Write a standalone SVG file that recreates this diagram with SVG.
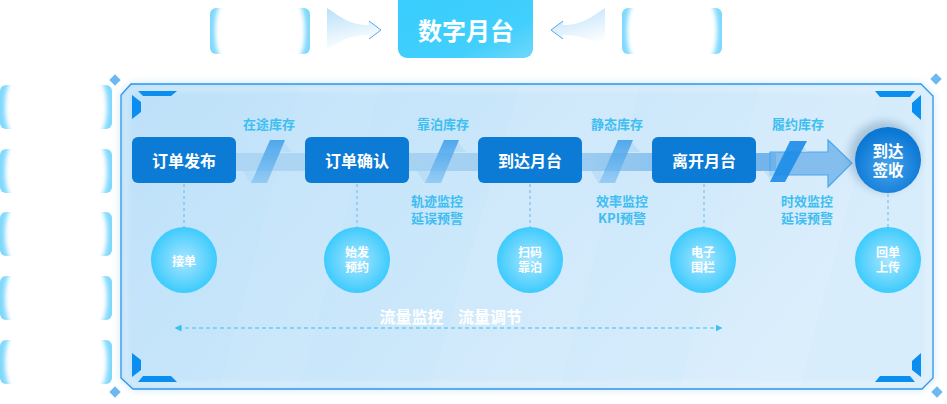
<svg xmlns="http://www.w3.org/2000/svg" width="947" height="404" viewBox="0 0 947 404">
<defs>
<style>
text{font-family:'Noto Sans CJK SC','Noto Sans',sans-serif;font-weight:700;text-anchor:middle}
.lbl{fill:#3fbef2;font-size:13px}
.box{fill:#0b7bd5}
.boxt{fill:#fff;font-size:16px}
.ct{fill:#fff;font-size:12px}
.vd{stroke:#6db6ea;stroke-width:1;stroke-dasharray:3 3;fill:none}
.dia{fill:#6db8f0}
.corner{fill:#0a8ff0}
</style>
<linearGradient id="panelG" x1="0" y1="0" x2="1" y2="0.3">
<stop offset="0" stop-color="#bde1f9"/><stop offset="1" stop-color="#d8edfc"/>
</linearGradient>
<linearGradient id="topBoxG" x1="0" y1="0" x2="1" y2="1">
<stop offset="0" stop-color="#36cdfd"/><stop offset="0.7" stop-color="#42cffd"/><stop offset="1" stop-color="#6fd8fb"/>
</linearGradient>
<linearGradient id="arrG" x1="0" y1="0" x2="0.3" y2="1">
<stop offset="0" stop-color="#b8e0fa"/><stop offset="1" stop-color="#ffffff"/>
</linearGradient>
<linearGradient id="bandG" x1="0" y1="0" x2="1" y2="0">
<stop offset="0" stop-color="#9fcdef" stop-opacity="0.6"/><stop offset="0.6" stop-color="#8cc3ed" stop-opacity="0.7"/><stop offset="1" stop-color="#5ea9e8" stop-opacity="0.85"/>
</linearGradient>
<linearGradient id="bigArrG" x1="0" y1="0" x2="1" y2="0">
<stop offset="0" stop-color="#6eb2ea" stop-opacity="0.8"/><stop offset="1" stop-color="#7ab9ec" stop-opacity="0.9"/>
</linearGradient>
<linearGradient id="slashG" x1="0" y1="0" x2="0" y2="1">
<stop offset="0" stop-color="#3b9cea" stop-opacity="0.85"/><stop offset="1" stop-color="#7dc0f1" stop-opacity="0.7"/>
</linearGradient>
<radialGradient id="circG" cx="0.5" cy="0.5" r="0.5">
<stop offset="0" stop-color="#a6e5ff"/><stop offset="0.7" stop-color="#5fd3fd"/><stop offset="1" stop-color="#3ccbfe"/>
</radialGradient>
<radialGradient id="endG" cx="0.5" cy="0.6" r="0.55">
<stop offset="0" stop-color="#4aa3ea"/><stop offset="0.7" stop-color="#1b84dc"/><stop offset="1" stop-color="#0a77d3"/>
</radialGradient>
<filter id="blur2" x="-20%" y="-20%" width="140%" height="140%"><feGaussianBlur stdDeviation="2.2"/></filter>
<filter id="glow" x="-5%" y="-10%" width="110%" height="120%"><feGaussianBlur stdDeviation="5"/></filter>
<filter id="shadow" x="-40%" y="-40%" width="180%" height="180%"><feGaussianBlur stdDeviation="4"/></filter>
<clipPath id="clipB"><rect x="0" y="0" width="100" height="46" rx="6"/></clipPath>
<clipPath id="clipL"><rect x="0" y="0" width="112" height="44" rx="6"/></clipPath>
<marker id="ah" viewBox="0 0 10 10" refX="5" refY="5" markerWidth="7" markerHeight="7" orient="auto-start-reverse" markerUnits="userSpaceOnUse">
<path d="M0,0 L10,5 L0,10 Z" fill="#3dbff2"/>
</marker>
<g id="slash">
<polygon points="283,141 292,152 280,152" fill="#b9ddf6" opacity="0.9"/>
<polygon points="243,171 255,171 251,184" fill="#b9ddf6" opacity="0.9"/>
<polygon points="270,140 285,140 267,183 251,183" fill="url(#slashG)"/>
</g>
<g id="bracket">
<g clip-path="url(#clipB)">
<rect x="0" y="0" width="100" height="46" fill="#7fd8fc"/>
<rect x="5" y="-10" width="90" height="66" rx="14" ry="30" fill="#fff" filter="url(#blur2)"/>
</g>
</g>
<g id="bracketL">
<g clip-path="url(#clipL)">
<rect x="0" y="0" width="112" height="44" fill="#7fd8fc"/>
<rect x="5" y="-10" width="102" height="64" rx="14" ry="30" fill="#fff" filter="url(#blur2)"/>
</g>
</g>
</defs>
<rect width="947" height="404" fill="#fff"/>

<!-- top section -->
<g id="top-left-box"><use href="#bracket" x="210" y="8"/></g>
<g id="top-right-box"><use href="#bracket" x="622" y="8"/></g>
<g id="top-center">
<rect x="398" y="-8" width="135" height="66" rx="9" fill="url(#topBoxG)"/>
<text x="466" y="40" fill="#fff" style="font-size:24px">数字月台</text>
</g>
<g id="top-arrows">
<path d="M327,8 C342,18 350,25 369,25 L369,21 L381,30 L369,39 L369,35 C350,35 342,40 327,50 Z" fill="url(#arrG)"/>
<path d="M369,21 L381,30 L369,39" fill="none" stroke="#5aa8ee" stroke-width="1"/>
<path d="M605,8 C590,18 582,25 563,25 L563,21 L551,30 L563,39 L563,35 C582,35 590,40 605,50 Z" fill="url(#arrG)"/>
<path d="M563,21 L551,30 L563,39" fill="none" stroke="#5aa8ee" stroke-width="1"/>
</g>

<!-- left column -->
<g id="left-col">
<use href="#bracketL" x="0" y="85"/>
<use href="#bracketL" x="0" y="149"/>
<use href="#bracketL" x="0" y="212"/>
<use href="#bracketL" x="0" y="276"/>
<use href="#bracketL" x="0" y="340"/>
</g>

<!-- panel -->
<g id="panel">
<path d="M131,84 L921,84 L933,96 L933,378 L922,389 L133,389 L121,378 L121,95 Z" fill="#b9e0fa" opacity="0.8" filter="url(#glow)"/>
<path d="M131,84 L921,84 L933,96 L933,378 L922,389 L133,389 L121,378 L121,95 Z" fill="url(#panelG)" stroke="#2b93e8" stroke-width="1.3"/>
<path d="M126,97 L133,89 L920,89 L928,97 L928,377 L920,384 L134,384 L126,376 Z" fill="none" stroke="#ffffff" stroke-opacity="0.35" stroke-width="3" filter="url(#blur2)"/>
<polygon points="520,86 640,86 560,387 430,387" fill="#fff" opacity="0.08"/>
<polygon points="760,86 880,86 800,387 680,387" fill="#fff" opacity="0.08"/>
<polygon points="300,86 380,86 300,387 220,387" fill="#fff" opacity="0.06"/>
<polygon points="138,91 177,91 171,96 143,96" class="corner"/>
<polygon points="132,95 141,102 141,112 132,119" class="corner"/>
<polygon points="143,376 171,376 177,382 138,382" class="corner"/>
<polygon points="132,353 141,360 141,370 132,377" class="corner"/>
<polygon points="875,91 915,91 910,97 880,97" class="corner"/>
<polygon points="921,95 912,103 912,112 921,120" class="corner"/>
<polygon points="880,376 910,376 915,382 875,382" class="corner"/>
<polygon points="921,353 912,361 912,370 921,377" class="corner"/>
<rect x="111" y="76" width="8" height="8" transform="rotate(45 115 80)" class="dia"/>
<rect x="111" y="388" width="8" height="8" transform="rotate(45 115 392)" class="dia"/>
<rect x="932" y="75" width="8" height="8" transform="rotate(45 936 79)" class="dia"/>
<rect x="933" y="388" width="8" height="8" transform="rotate(45 937 392)" class="dia"/>
</g>

<!-- connectors -->
<g id="connectors">
<rect x="236" y="153" width="540" height="18" fill="url(#bandG)"/>
<path d="M770,152 L828,152 L828,140 L852,163 L828,187 L828,175 L770,175 Z" fill="url(#bigArrG)" stroke="#4aa8ef" stroke-width="1.2"/>
<use href="#slash"/>
<use href="#slash" x="174"/>
<use href="#slash" x="348"/>
<polygon points="799,141 808,152 796,152" fill="#b9ddf6" opacity="0.7"/>
<polygon points="764,171 776,171 772,183" fill="#b9ddf6" opacity="0.7"/>
<polygon points="790,141 807,141 785,182 770,182" fill="#1c8ce8" opacity="0.9"/>
<line x1="184" y1="184" x2="184" y2="227" class="vd"/>
<line x1="357" y1="184" x2="357" y2="227" class="vd"/>
<line x1="530" y1="184" x2="530" y2="227" class="vd"/>
<line x1="704" y1="184" x2="704" y2="227" class="vd"/>
<line x1="888" y1="194" x2="888" y2="227" class="vd"/>
<line x1="178" y1="328" x2="719" y2="328" stroke="#3dbff2" stroke-width="1.2" stroke-dasharray="4 3" marker-start="url(#ah)" marker-end="url(#ah)"/>
</g>

<!-- labels -->
<g id="labels">
<text x="269" y="129" class="lbl">在途库存</text>
<text x="443" y="129" class="lbl">靠泊库存</text>
<text x="617" y="129" class="lbl">静态库存</text>
<text x="798" y="129" class="lbl">履约库存</text>
<text x="437" y="206" class="lbl">轨迹监控</text>
<text x="437" y="223" class="lbl">延误预警</text>
<text x="622" y="206" class="lbl">效率监控</text>
<text x="622" y="223" class="lbl">KPI预警</text>
<text x="807" y="206" class="lbl">时效监控</text>
<text x="807" y="223" class="lbl">延误预警</text>
<text x="411.5" y="323" fill="#fff" style="font-size:16px">流量监控</text>
<text x="490" y="323" fill="#fff" style="font-size:16px">流量调节</text>
</g>

<!-- process nodes -->
<g id="node-order-publish"><rect x="132" y="137" width="104" height="46" rx="6" class="box"/><text x="184" y="167" class="boxt">订单发布</text></g>
<g id="node-order-confirm"><rect x="305" y="137" width="104" height="46" rx="6" class="box"/><text x="357" y="167" class="boxt">订单确认</text></g>
<g id="node-arrive"><rect x="478" y="137" width="104" height="46" rx="6" class="box"/><text x="530" y="167" class="boxt">到达月台</text></g>
<g id="node-leave"><rect x="652" y="137" width="104" height="46" rx="6" class="box"/><text x="704" y="167" class="boxt">离开月台</text></g>
<g id="node-sign">
<circle cx="884" cy="156" r="35" fill="#6a8fb0" opacity="0.45" filter="url(#shadow)"/>
<circle cx="888" cy="160" r="33" fill="url(#endG)"/>
<text x="888" y="157" class="boxt" style="font-size:15.5px">到达</text><text x="888" y="176" class="boxt" style="font-size:15.5px">签收</text>
</g>

<!-- sub circles -->
<g id="c-jiedan"><circle cx="184" cy="260" r="33" fill="url(#circG)"/><text x="184" y="266" class="ct">接单</text></g>
<g id="c-shifa"><circle cx="357" cy="260" r="33" fill="url(#circG)"/><text x="357" y="257" class="ct">始发</text><text x="357" y="272" class="ct">预约</text></g>
<g id="c-saoma"><circle cx="530" cy="260" r="33" fill="url(#circG)"/><text x="530" y="257" class="ct">扫码</text><text x="530" y="272" class="ct">靠泊</text></g>
<g id="c-dianzi"><circle cx="703" cy="260" r="33" fill="url(#circG)"/><text x="703" y="257" class="ct">电子</text><text x="703" y="272" class="ct">围栏</text></g>
<g id="c-huidan"><circle cx="888" cy="260" r="33" fill="url(#circG)"/><text x="888" y="257" class="ct">回单</text><text x="888" y="272" class="ct">上传</text></g>
</svg>
